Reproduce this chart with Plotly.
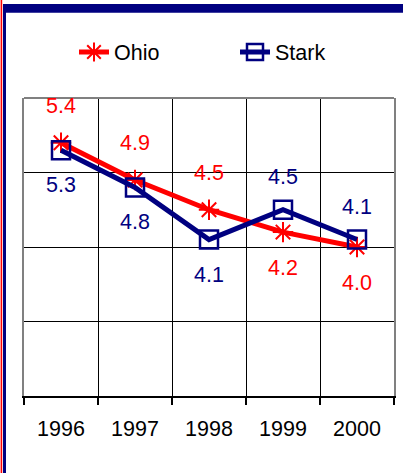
import plotly.graph_objects as go

years = ["1996", "1997", "1998", "1999", "2000"]
ohio = [5.4, 4.9, 4.5, 4.2, 4.0]
stark = [5.3, 4.8, 4.1, 4.5, 4.1]
ohio_label_side = ["top", "top", "top", "bottom", "bottom"]
stark_label_side = ["bottom", "bottom", "bottom", "top", "top"]

RED = "#FF0000"
NAVY = "#000080"
FONT = "Liberation Sans, Arial, sans-serif"
FS = 21.5

W, H = 403, 473
ML, MR, MT, MB = 24, 9, 98, 77
PW, PH = W - ML - MR, H - MT - MB


def px_x(p):
    return (p - ML) / PW


def px_y(p):
    return (H - MB - p) / PH


fig = go.Figure()
fig.add_trace(go.Scatter(
    x=years, y=ohio, name="Ohio", mode="lines+markers",
    line=dict(color=RED, width=5),
    marker=dict(symbol="asterisk-open", size=17, color=RED, line=dict(color=RED, width=2)),
))
fig.add_trace(go.Scatter(
    x=years, y=stark, name="Stark", mode="lines+markers",
    line=dict(color=NAVY, width=5),
    marker=dict(symbol="square-open", size=18, color=NAVY, line=dict(color=NAVY, width=2.5)),
))

annotations = []
for vals, sides, col, up, down in [(ohio, ohio_label_side, RED, 37, -36),
                                   (stark, stark_label_side, NAVY, 33, -35)]:
    for i, (v, s) in enumerate(zip(vals, sides)):
        annotations.append(dict(
            x=i, y=v, xref="x", yref="y", text=f"{v:.1f}", showarrow=False,
            yshift=up if s == "top" else down,
            font=dict(family=FONT, size=FS, color=col),
        ))

shapes = [
    # top border of plot area (gray)
    dict(type="line", xref="paper", yref="paper", x0=0, x1=1, y0=1, y1=1,
         line=dict(color="#808080", width=2), layer="above"),
    # decorative page frame
    dict(type="rect", xref="paper", yref="paper", x0=px_x(3), x1=px_x(W + 2),
         y0=px_y(12.7), y1=px_y(4), line=dict(width=0), fillcolor=NAVY),
    dict(type="rect", xref="paper", yref="paper", x0=px_x(3), x1=px_x(6),
         y0=px_y(H + 2), y1=px_y(4), line=dict(width=0), fillcolor=NAVY),
    dict(type="rect", xref="paper", yref="paper", x0=px_x(0.6), x1=px_x(2.2),
         y0=px_y(H + 2), y1=px_y(-2), line=dict(width=0), fillcolor=RED),
]

fig.update_layout(
    width=W, height=H,
    margin=dict(l=ML, r=MR, t=MT, b=MB, autoexpand=False),
    paper_bgcolor="white", plot_bgcolor="white",
    font=dict(family=FONT, size=FS, color="black"),
    showlegend=True,
    legend=dict(orientation="h", x=px_x(74), xanchor="left", y=px_y(52), yanchor="middle",
                font=dict(family=FONT, size=FS, color="black"),
                entrywidth=116, entrywidthmode="pixels", bgcolor="rgba(0,0,0,0)"),
    annotations=annotations,
    shapes=shapes,
    xaxis=dict(type="category", tickson="boundaries", showgrid=True, gridcolor="black", gridwidth=1,
               showline=True, linecolor="black", linewidth=2, ticks="outside", ticklen=7,
               tickcolor="black", tickwidth=1.5, tickfont=dict(family=FONT, size=FS, color="black"),
               ticklabelstandoff=12, automargin=False,
               range=[-0.5, 4.5], fixedrange=True),
    yaxis=dict(range=[2, 6], dtick=1, tick0=2, showgrid=True, gridcolor="black", gridwidth=1,
               showticklabels=False, zeroline=False, showline=True, linecolor="#808080",
               linewidth=2, mirror=True, ticks="", automargin=False),
)

fig.write_html("out.html", config={"displayModeBar": False},
               post_script="document.body.style.margin='0px';document.body.style.overflow='hidden';")
